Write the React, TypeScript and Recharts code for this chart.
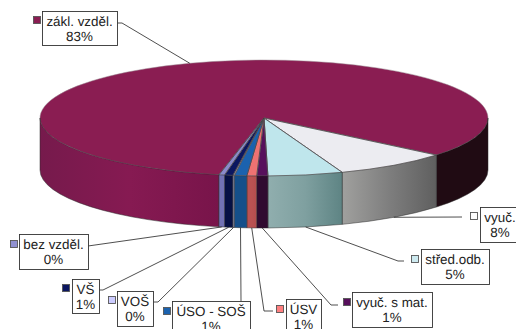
import { PieChart, Pie } from 'recharts'

const categories = ['zákl. vzděl.', 'vyuč.', 'střed.odb.', 'vyuč. s mat.', 'ÚSV', 'ÚSO - SOŠ', 'VOŠ', 'VŠ', 'bez vzděl.']
const shares = [82.8, 8.3, 5.4, 0.8, 0.7, 0.9, 0.1, 0.6, 0.4]
const topColors = ['#8a1d52', '#ececf1', '#bfe6ec', '#57105c', '#ee7272', '#1b62ae', '#ccccec', '#0b1660', '#8a8acb']
const swatchColors = ['#8a1d52', '#ffffff', '#cdeaf0', '#57105c', '#ff8080', '#1b62ae', '#ccccff', '#0b1660', '#9090d0']
const wallShades = [
  ['#761a4c', '#861a52', '#78144a'],
  ['#a0a09e', '#7e7e7e', '#5f5f5f'],
  ['#90aeae', '#7fa0a0', '#5e8484'],
  ['#300a30', '#300a30', '#300a30'],
  ['#ba5252', '#ba5252', '#b44e4e'],
  ['#154f8a', '#154f8a', '#154f8a'],
  ['#a0a0c0', '#a0a0c0', '#a0a0c0'],
  ['#061044', '#061044', '#061044'],
  ['#7272b4', '#7272b4', '#7272b4'],
]
const shadowWall = '#200b13'

const W = 516
const H = 329
const CX = 264
const CY = 118
const RX = 224
const RY = 58
const DEPTH = 52
const FONT = '"Liberation Sans", Arial, sans-serif'

const data = categories.map((name, i) => ({ name, value: shares[i] }))

// label box, swatch and where the leader line bends
const labelBoxes = [
  { x: 42, y: 11, w: 75, h: 34, sx: 33, sy: 16, leader: [[122, 23], [117, 23]] },
  { x: 480, y: 207, w: 40, h: 35, sx: 470, sy: 212, leader: [[462, 217]] },
  { x: 421, y: 249, w: 68, h: 35, sx: 411, sy: 255, leader: [[398, 261], [404, 261]] },
  { x: 352, y: 292, w: 80, h: 35, sx: 343, sy: 298, leader: [[331, 305], [338, 305]] },
  { x: 286, y: 299, w: 35, h: 35, sx: 276, sy: 305, leader: [[264, 311], [273, 311]] },
  { x: 172, y: 301, w: 78, h: 35, sx: 163, sy: 307, leader: [[241, 301]] },
  { x: 117, y: 291, w: 36, h: 35, sx: 108, sy: 296, leader: [[158, 302], [153, 302]] },
  { x: 72, y: 279, w: 27, h: 34, sx: 62, sy: 284, leader: [[103, 290], [99, 290]] },
  { x: 19, y: 234, w: 69, h: 35, sx: 10, sy: 240, leader: [[88, 246]] },
]

const rad = (d: number) => (d * Math.PI) / 180
const px = (t: number) => CX + RX * Math.cos(rad(t))
const py = (t: number) => CY + RY * Math.sin(rad(t))

function Slice(props: any) {
  const { startAngle, endAngle, index } = props
  // recharts angles run counter-clockwise, t runs clockwise on screen
  const t1 = -startAngle
  const t2 = -endAngle
  const walls: { a: number; b: number }[] = []
  ;[[0, 180], [360, 540]].forEach(([lo, hi]) => {
    const a = Math.max(t1, lo)
    const b = Math.min(t2, hi)
    if (b > a) walls.push({ a, b })
  })
  const large = t2 - t1 > 180 ? 1 : 0
  const shade = wallShades[index]
  const gid = `wall${index}`
  return (
    <g>
      <defs>
        <linearGradient id={gid} x1="0" y1="0" x2="1" y2="0">
          <stop offset="0%" stopColor={shade[0]} />
          <stop offset="50%" stopColor={shade[1]} />
          <stop offset="100%" stopColor={shade[2]} />
        </linearGradient>
      </defs>
      <path
        d={`M${CX},${CY} L${px(t1)},${py(t1)} A${RX},${RY} 0 ${large} 1 ${px(t2)},${py(t2)} Z`}
        fill={topColors[index]}
        stroke="#9a8a92"
        strokeWidth={0.5}
      />
      <path
        d={`M${px(t1)},${py(t1)} L${CX},${CY} L${px(t2)},${py(t2)}`}
        fill="none"
        stroke="#333"
        strokeWidth={0.6}
        strokeLinejoin="round"
      />
      {walls.map(({ a, b }) => (
        <path
          key={a}
          d={`M${px(a)},${py(a)} A${RX},${RY} 0 0 1 ${px(b)},${py(b)} L${px(b)},${py(b) + DEPTH} A${RX},${RY} 0 0 0 ${px(a)},${py(a) + DEPTH} Z`}
          fill={index === 0 && a >= 360 ? shadowWall : `url(#${gid})`}
          stroke="#2a2a2a"
          strokeWidth={0.5}
        />
      ))}
    </g>
  )
}

function SliceLabel(props: any) {
  const { index, midAngle, value } = props
  const box = labelBoxes[index]
  const t = -midAngle
  const sin = Math.sin(rad(t))
  const ax = px(t)
  const ay = py(t) + (sin > 0 ? DEPTH : 0)
  const points = [[ax, ay], ...box.leader].map(p => p.join(',')).join(' ')
  const mid = box.x + box.w / 2
  return (
    <g>
      <polyline points={points} fill="none" stroke="#222" strokeWidth={0.8} />
      <rect x={box.x + 0.5} y={box.y + 0.5} width={box.w} height={box.h} fill="#fff" stroke="#333" strokeWidth={0.9} />
      <rect x={box.sx + 0.5} y={box.sy + 0.5} width={7} height={7} fill={swatchColors[index]} stroke="#555" strokeWidth={0.9} />
      <text x={mid} y={box.y + 15} textAnchor="middle" fontFamily={FONT} fontSize={13.4} fill="#222" style={{ textRendering: 'geometricPrecision' }}>{categories[index]}</text>
      <text x={mid} y={box.y + 30} textAnchor="middle" fontFamily={FONT} fontSize={13.4} fill="#222" style={{ textRendering: 'geometricPrecision' }}>{Math.round(value)}%</text>
    </g>
  )
}

export default function App() {
  return (
    <div style={{ position: 'absolute', left: 0, top: 0, width: W, height: H, overflow: 'hidden', background: '#fff' }}>
      <PieChart width={W} height={H} margin={{ top: 0, right: 0, bottom: 0, left: 0 }}>
        <Pie
          data={data}
          dataKey="value"
          nameKey="name"
          cx={CX}
          cy={CY}
          innerRadius={0}
          outerRadius={RX}
          startAngle={-101.6}
          endAngle={-461.6}
          stroke="none"
          shape={(p: any) => <Slice {...p} />}
          label={(p: any) => <SliceLabel {...p} />}
          labelLine={false}
          isAnimationActive={false}
        />
      </PieChart>
    </div>
  )
}
